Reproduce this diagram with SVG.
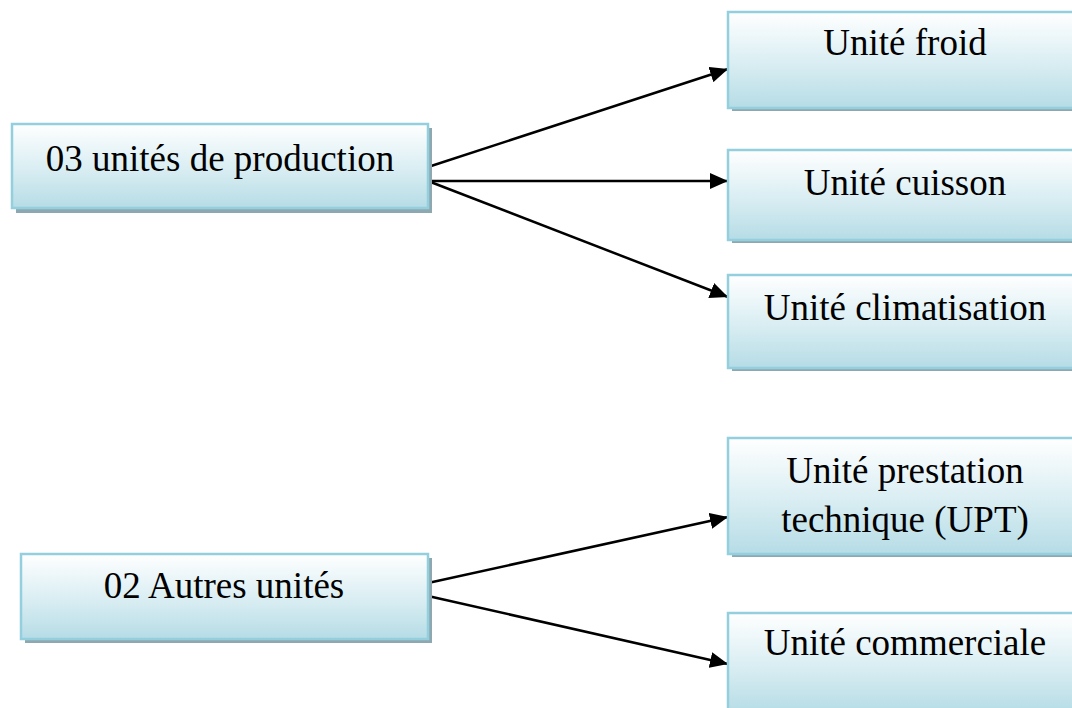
<svg xmlns="http://www.w3.org/2000/svg" width="1072" height="708" viewBox="0 0 1072 708">
<defs>
<linearGradient id="g" x1="0" y1="0" x2="0" y2="1">
<stop offset="0" stop-color="#ffffff"/>
<stop offset="0.55" stop-color="#d8edf2"/>
<stop offset="1" stop-color="#b6dce6"/>
</linearGradient>
<marker id="ah" markerUnits="userSpaceOnUse" markerWidth="20" markerHeight="16" refX="18" refY="8" orient="auto">
<path d="M0,0 L18,8 L0,16 z" fill="#000"/>
</marker>
<style>
.sh{fill:#8ea8b1}
.bx{fill:url(#g);stroke:#93cfdd;stroke-width:2.5}
.t{font-size:37px;fill:#000;text-anchor:middle}
.c{stroke:#000;stroke-width:2.5;fill:none;marker-end:url(#ah)}
</style>
</defs>
<rect width="1072" height="708" fill="#fff"/>
<g id="connectors">
<line class="c" x1="428" y1="167" x2="728" y2="69"/>
<line class="c" x1="428" y1="181" x2="728" y2="181"/>
<line class="c" x1="428" y1="181" x2="728" y2="297"/>
<line class="c" x1="428" y1="583" x2="728" y2="517"/>
<line class="c" x1="428" y1="596" x2="728" y2="664"/>
</g>
<g font-family="'Liberation Serif', 'Times New Roman', serif">
<g id="n-production">
<rect class="sh" x="16" y="128" width="416" height="85"/>
<rect class="bx" x="12" y="124" width="416" height="84"/>
<text class="t" x="220" y="171">03 unités de production</text>
</g>
<g id="n-autres">
<rect class="sh" x="25" y="558" width="407" height="85"/>
<rect class="bx" x="21" y="554" width="407" height="85"/>
<text class="t" x="224" y="598">02 Autres unités</text>
</g>
<g id="n-froid">
<rect class="sh" x="732" y="16" width="354" height="95"/>
<rect class="bx" x="728" y="12" width="354" height="96"/>
<text class="t" x="905" y="55">Unité froid</text>
</g>
<g id="n-cuisson">
<rect class="sh" x="732" y="154" width="354" height="89"/>
<rect class="bx" x="728" y="150" width="354" height="90"/>
<text class="t" x="905" y="195">Unité cuisson</text>
</g>
<g id="n-climatisation">
<rect class="sh" x="732" y="279" width="354" height="92"/>
<rect class="bx" x="728" y="275" width="354" height="93"/>
<text class="t" x="905" y="320">Unité climatisation</text>
</g>
<g id="n-upt">
<rect class="sh" x="732" y="442" width="354" height="115"/>
<rect class="bx" x="728" y="438" width="354" height="116"/>
<text class="t" x="905" y="483">Unité prestation</text>
<text class="t" x="905" y="532">technique (UPT)</text>
</g>
<g id="n-commerciale">
<rect class="sh" x="732" y="617" width="354" height="100"/>
<rect class="bx" x="728" y="613" width="354" height="100"/>
<text class="t" x="905" y="655">Unité commerciale</text>
</g>
</g>
</svg>
